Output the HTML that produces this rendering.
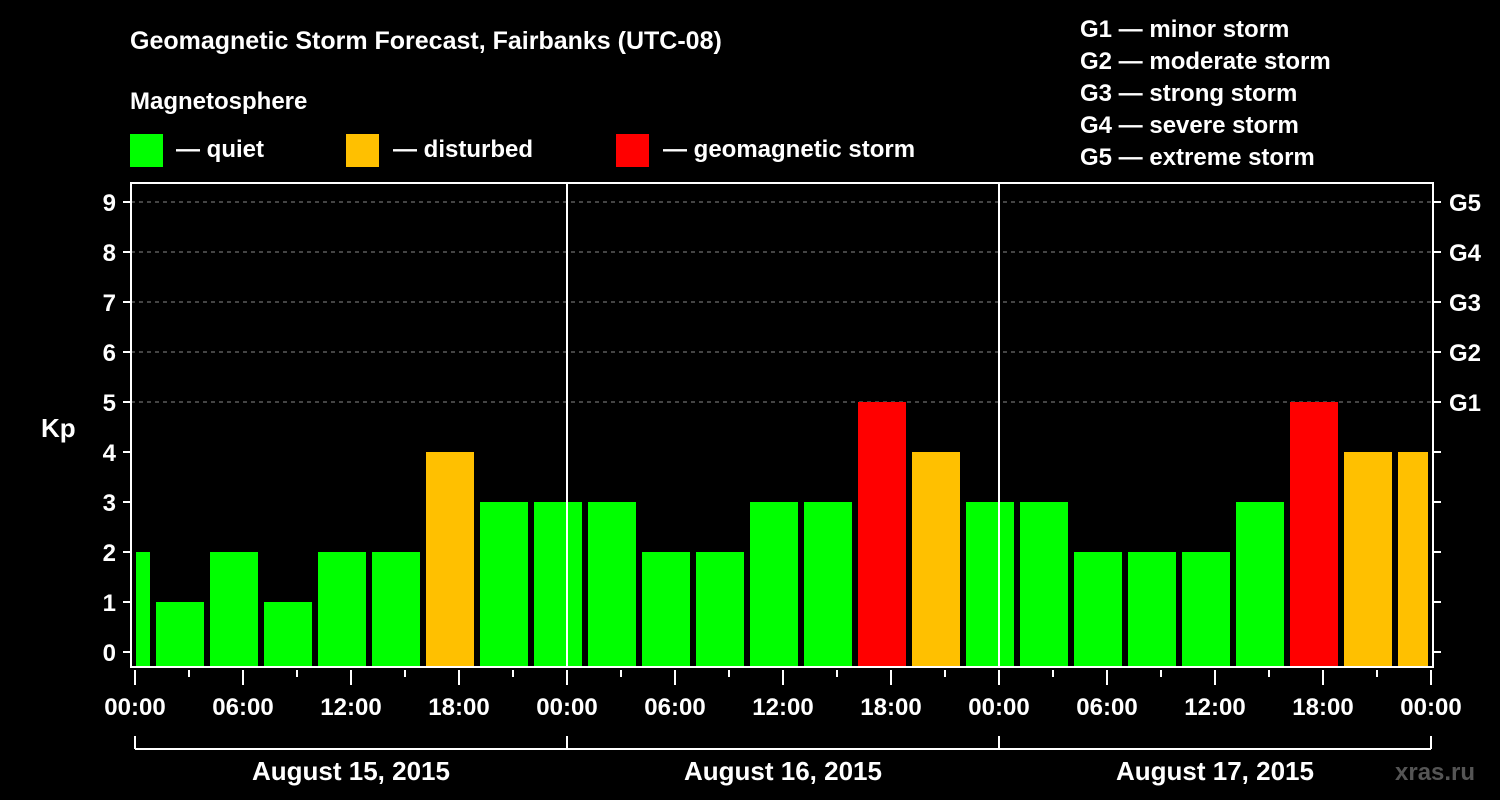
<!DOCTYPE html>
<html><head><meta charset="utf-8"><style>
body{margin:0;background:#000;}
svg{display:block;font-family:"Liberation Sans",Arial,sans-serif;font-weight:bold;}
</style></head><body>
<svg id="chart" width="1500" height="800" viewBox="0 0 1500 800">
<rect width="1500" height="800" fill="#000"/>
<text x="130" y="49" fill="#fff" font-size="25">Geomagnetic Storm Forecast, Fairbanks (UTC-08)</text>
<text x="130" y="109" fill="#fff" font-size="24">Magnetosphere</text>
<g><rect x="130" y="134" width="33" height="33" fill="#00ff00"/><text x="176" y="157" fill="#fff" font-size="24">— quiet</text></g>
<g><rect x="346" y="134" width="33" height="33" fill="#ffc000"/><text x="393" y="157" fill="#fff" font-size="24">— disturbed</text></g>
<g><rect x="616" y="134" width="33" height="33" fill="#ff0000"/><text x="663" y="157" fill="#fff" font-size="24">— geomagnetic storm</text></g>
<g fill="#fff" font-size="24">
<text x="1080" y="37">G1 — minor storm</text>
<text x="1080" y="69">G2 — moderate storm</text>
<text x="1080" y="101">G3 — strong storm</text>
<text x="1080" y="133">G4 — severe storm</text>
<text x="1080" y="165">G5 — extreme storm</text>
</g>
<text x="41" y="437" fill="#fff" font-size="26">Kp</text>
<text x="1395" y="780" fill="#555" font-size="24">xras.ru</text>
<g id="plot"></g>
</svg>
<script>
const binStarts=[-2,1,4,7,10,13,16,19,22,25,28,31,34,37,40,43,46,49,52,55,58,61,64,67,70];
const kpValues=[2,1,2,1,2,2,4,3,3,3,2,2,3,3,5,4,3,3,2,2,2,3,5,4,4];
const yTicks=[0,1,2,3,4,5,6,7,8,9];
const gLabels=["G1","G2","G3","G4","G5"];
const xTickLabels=["00:00","06:00","12:00","18:00","00:00","06:00","12:00","18:00","00:00","06:00","12:00","18:00","00:00"];
const dayLabels=["August 15, 2015","August 16, 2015","August 17, 2015"];

const NS="http://www.w3.org/2000/svg";
const g=document.getElementById('plot');
const X=h=>135+18*h;
const Y=v=>652-50*v;
const L=131,R=1433,T=183,B=667;
function mk(t,a){const e=document.createElementNS(NS,t);for(const k in a)e.setAttribute(k,a[k]);g.appendChild(e);return e;}
// gridlines
for(let v=5;v<=9;v++){const e=mk('line',{x1:L,x2:R,y1:Y(v),y2:Y(v),stroke:'#888','stroke-dasharray':'4,4','stroke-width':1});

}
// bars
binStarts.forEach((s,i)=>{
 const v=kpValues[i];
 const x1=Math.max(X(s)+3,X(0)+1), x2=Math.min(X(s+3)-3,R-5);
 const c=v>=5?'#ff0000':(v>=4?'#ffc000':'#00ff00');
 const e=mk('rect',{x:x1,y:Y(v),width:x2-x1,height:B-Y(v),fill:c});
 
 
});
// frame and day separators
const fr=mk('rect',{x:L,y:T,width:R-L,height:B-T,fill:'none',stroke:'#fff','stroke-width':2});


[24,48].forEach(h=>{const e=mk('line',{x1:X(h),x2:X(h),y1:T,y2:B,stroke:'#fff','stroke-width':2});

});
// y ticks
yTicks.forEach(v=>{
 mk('line',{x1:L-8,x2:L,y1:Y(v),y2:Y(v),stroke:'#fff','stroke-width':2});
 mk('line',{x1:R,x2:R+8,y1:Y(v),y2:Y(v),stroke:'#fff','stroke-width':2});
 const t=mk('text',{x:116,y:Y(v)+9,fill:'#fff','font-size':24,'text-anchor':'end'});t.textContent=v;
 
 
});
gLabels.forEach((s,i)=>{const t=mk('text',{x:1449,y:Y(5+i)+9,fill:'#fff','font-size':24});t.textContent=s;

});
// x ticks
for(let h=0;h<=72;h+=3){const major=h%6===0;mk('line',{x1:X(h),x2:X(h),y1:B+3,y2:B+(major?18:10),stroke:'#fff','stroke-width':2});}
xTickLabels.forEach((s,i)=>{const t=mk('text',{x:X(i*6),y:715,fill:'#fff','font-size':24,'text-anchor':'middle'});t.textContent=s;

});
// day bracket
mk('line',{x1:X(0),x2:X(72),y1:749,y2:749,stroke:'#fff','stroke-width':2});
[0,24,48,72].forEach(h=>mk('line',{x1:X(h),x2:X(h),y1:736,y2:749,stroke:'#fff','stroke-width':2}));
dayLabels.forEach((s,i)=>{const t=mk('text',{x:X(i*24+12),y:780,fill:'#fff','font-size':26,'text-anchor':'middle'});t.textContent=s;

});
</script>
</body></html>
